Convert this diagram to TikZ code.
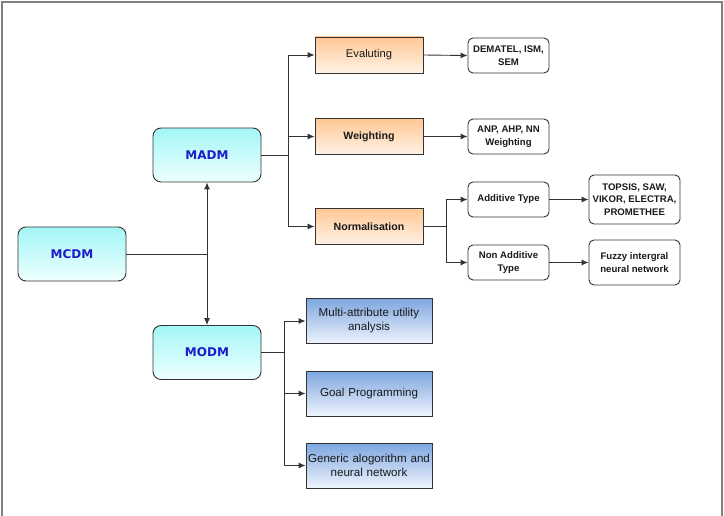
\documentclass[tikz,border=0pt]{standalone}
\usepackage{fontspec}
\setmainfont{Liberation Sans}
\newfontfamily\dejab{DejaVu Sans}
\usetikzlibrary{arrows.meta,calc}
\definecolor{linec}{HTML}{333333}
\definecolor{txtc}{HTML}{1A1A1A}
\definecolor{bluetxt}{HTML}{1C1CC8}
\definecolor{cyantop}{HTML}{A4F6F6}
\definecolor{cyanbot}{HTML}{EEFFFF}
\definecolor{ortop}{HTML}{FFC794}
\definecolor{orbot}{HTML}{FFF2E6}
\definecolor{bltop}{HTML}{7EA6E0}
\definecolor{blbot}{HTML}{EEF4FD}
\definecolor{framec}{HTML}{808080}
\tikzset{
  cyanbox/.style={draw=linec, line width=0.9pt, rounded corners=8pt, top color=cyantop, bottom color=cyanbot,
    minimum width=108pt, minimum height=54pt, text=bluetxt, font=\dejab\bfseries\fontsize{12}{14}\selectfont},
  orbox/.style={draw=linec, line width=0.9pt, top color=ortop, bottom color=orbot,
    minimum width=108pt, minimum height=36pt, text=txtc, font=\bfseries\fontsize{10.6}{13}\selectfont},
  blbox/.style={draw=linec, line width=0.9pt, top color=bltop, bottom color=blbot, inner xsep=1pt,
    text width=124pt, minimum height=45pt, text=txtc, align=center, font=\fontsize{11.6}{14}\selectfont},
  whbox/.style={draw=linec, line width=0.9pt, rounded corners=5pt, fill=white,
    minimum width=81pt, minimum height=35pt, text=txtc, align=center, font=\bfseries\fontsize{9.6}{12.5}\selectfont},
  conn/.style={draw=linec, line width=0.9pt},
  arr/.style={conn, -{Latex[length=7pt,width=6pt]}}
}
\begin{document}
\begin{tikzpicture}[x=1pt,y=-1pt]
\useasboundingbox (0,0) rectangle (724,516);
\draw[framec, line width=1.5pt] (2,516) -- (2,2) -- (722,2) -- (722,516);

% level 1-2
\node[cyanbox] (mcdm) at (72,254) {MCDM};
\node[cyanbox] (madm) at (207,155) {MADM};
\node[cyanbox] (modm) at (207,352.5) {MODM};

% MADM children
\node[orbox, font=\fontsize{11.2}{13}\selectfont] (eval) at (369,55) {Evaluting};
\node[orbox] (weig) at (369,136.5) {Weighting};
\node[orbox] (norm) at (369,226.5) {Normalisation};

\node[whbox] (dem) at (508.5,55.5) {DEMATEL, ISM,\\SEM};
\node[whbox] (anp) at (508.5,136.5) {ANP, AHP, NN\\Weighting};
\node[whbox] (add) at (508.5,199.5) {Additive Type};
\node[whbox] (nadd) at (508.5,262.5) {Non Additive\\Type};

\node[whbox, minimum width=91pt, minimum height=49pt] (top) at (634.5,199.5) {TOPSIS, SAW,\\VIKOR, ELECTRA,\\PROMETHEE};
\node[whbox, minimum width=91pt, minimum height=45pt] (fuz) at (634.5,262.5) {Fuzzy intergral\\neural network};

% MODM children
\node[blbox] (multi) at (369,321) {Multi-attribute utility\\analysis};
\node[blbox] (goal) at (369,393.5) {Goal Programming};
\node[blbox] (gen) at (369,465.5) {Generic alogorithm and\\neural network};

% connectors
\coordinate (j1) at (207,254);
\draw[conn] (mcdm.east) -- (j1);
\draw[arr] (j1) -- (madm.south);
\draw[arr] (j1) -- (modm.north);

\coordinate (j2) at (288,155);
\draw[conn] (madm.east) -- (j2);
\draw[arr] (j2) |- (eval.west);
\draw[arr] (j2) |- (weig.west);
\draw[arr] (j2) |- (norm.west);

\draw[arr] (eval.east) -- (dem.west);
\draw[arr] (weig.east) -- (anp.west);

\coordinate (j3) at (446,226.5);
\draw[conn] (norm.east) -- (j3);
\draw[arr] (j3) |- (add.west);
\draw[arr] (j3) |- (nadd.west);

\draw[arr] (add.east) -- (top.west);
\draw[arr] (nadd.east) -- (fuz.west);

\coordinate (j4) at (284,352.5);
\draw[conn] (modm.east) -- (j4);
\draw[arr] (j4) |- (multi.west);
\draw[arr] (j4) |- (goal.west);
\draw[arr] (j4) |- (gen.west);
\end{tikzpicture}
\end{document}
